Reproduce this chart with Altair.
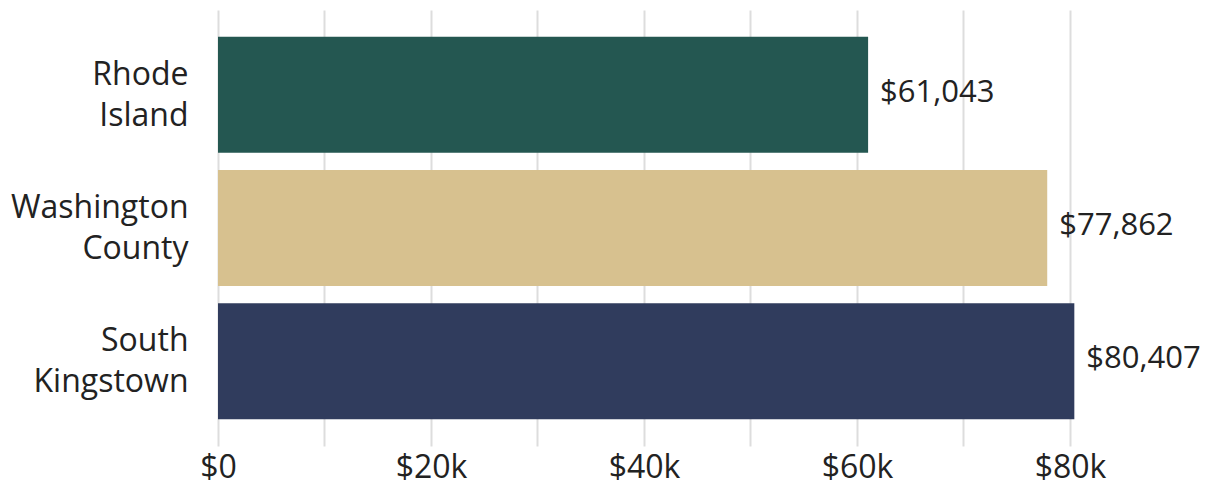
import altair as alt
import pandas as pd

places = ["Rhode Island", "Washington County", "South Kingstown"]
incomes = [61043, 77862, 80407]
colors = ["#245751", "#d7c18f", "#303c5d"]

FONT = "Open Sans"
FS = 32

df = pd.DataFrame({"place": places, "income": incomes})
df["label"] = df["income"].map(lambda v: "${:,}".format(v))

y = alt.Y("place:N", sort=places, title=None,
          scale=alt.Scale(paddingInner=0.13, paddingOuter=0.2),
          axis=alt.Axis(labelExpr="split(datum.label, ' ')", labelFontSize=FS,
                        labelFont=FONT, labelColor="#222222", labelPadding=30,
                        labelLineHeight=41, labelOffset=-20,
                        ticks=False, domain=False, grid=False))

bars = alt.Chart(df).mark_bar().encode(
    x=alt.X("income:Q", title=None,
            scale=alt.Scale(domain=[0, 91550], nice=False),
            axis=alt.Axis(values=list(range(0, 90000, 10000)),
                          labelExpr="datum.value == 0 ? '$0' : (datum.value % 20000 == 0 ? '$' + (datum.value/1000) + 'k' : '')",
                          labelFontSize=FS, labelFont=FONT, labelColor="#222222",
                          labelPadding=6, labelFlush=False, ticks=False, domain=False,
                          grid=True, gridColor="#dddddd", gridWidth=2)),
    y=y,
    color=alt.Color("place:N", scale=alt.Scale(domain=places, range=colors), legend=None),
)

text = alt.Chart(df).mark_text(align="left", baseline="middle", dx=12, dy=-2, fontSize=31,
                               font=FONT, color="#222222").encode(
    x="income:Q",
    y=alt.Y("place:N", sort=places),
    text="label:N",
)

chart = (bars + text).properties(
    width=975, height=436,
    autosize=alt.AutoSizeParams(type="none"),
    padding={"left": 210, "top": 2, "right": 8, "bottom": 39},
).configure_view(stroke=None)

chart.save("out.html", embed_options={"renderer": "svg", "actions": False})
